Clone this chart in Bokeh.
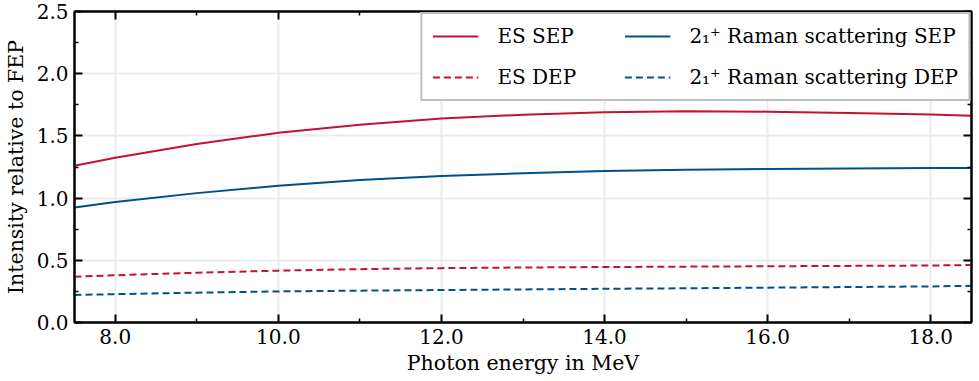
from bokeh.plotting import figure
from bokeh.models import FixedTicker, LinearAxis, Legend, LegendItem, CustomJSTickFormatter, Range1d
from bokeh.embed import file_html
from bokeh.resources import INLINE

energy = [7.5, 8, 9, 10, 11, 12, 13, 14, 15, 16, 17, 18, 18.5]
es_sep = [1.26, 1.325, 1.435, 1.525, 1.59, 1.64, 1.67, 1.69, 1.698, 1.695, 1.685, 1.672, 1.662]
raman_sep = [0.925, 0.968, 1.04, 1.10, 1.145, 1.178, 1.20, 1.218, 1.228, 1.234, 1.238, 1.241, 1.242]
es_dep = [0.368, 0.38, 0.40, 0.417, 0.429, 0.437, 0.442, 0.446, 0.449, 0.452, 0.455, 0.458, 0.462]
raman_dep = [0.221, 0.228, 0.24, 0.25, 0.256, 0.261, 0.266, 0.271, 0.275, 0.28, 0.285, 0.29, 0.295]

x_ticks = [8, 10, 12, 14, 16, 18]
x_minor = [9, 11, 13, 15, 17]
y_ticks = [0, 0.5, 1.0, 1.5, 2.0, 2.5]
y_minor = [0.25, 0.75, 1.25, 1.75, 2.25]

RED = "#c4122f"
BLUE = "#00508c"
FONT = "DejaVu Serif"

p = figure(width=979, height=381, output_backend="svg", toolbar_location=None,
           x_range=Range1d(7.5, 18.5), y_range=Range1d(0, 2.5),
           x_axis_label="Photon energy in MeV", y_axis_label="Intensity relative to FEP")
p.min_border_left = 72
p.min_border_right = 8
p.min_border_top = 11
p.min_border_bottom = 59
p.outline_line_color = "black"
p.outline_line_width = 2
p.background_fill_color = "white"
p.border_fill_color = "white"

xt = FixedTicker(ticks=x_ticks, minor_ticks=x_minor)
yt = FixedTicker(ticks=y_ticks, minor_ticks=y_minor)
fmt = CustomJSTickFormatter(code="return tick.toFixed(1);")
blank = CustomJSTickFormatter(code="return '';")

def style_axis(ax, show_labels=True):
    ax.axis_line_width = 2
    ax.axis_line_color = "black"
    ax.major_tick_line_width = 2
    ax.minor_tick_line_width = 1.5
    ax.major_tick_in = 8
    ax.major_tick_out = 0
    ax.minor_tick_in = 4
    ax.minor_tick_out = 0
    ax.major_label_text_font = FONT
    ax.major_label_text_color = "black"
    ax.axis_label_text_font = FONT
    ax.axis_label_text_font_style = "normal"
    ax.axis_label_text_font_size = "20.5px"
    ax.axis_label_text_color = "black"
    ax.major_label_text_font_size = "20px"
    if show_labels:
        ax.formatter = fmt
    else:
        ax.formatter = blank
        ax.major_label_standoff = 0

p.xaxis.ticker = xt
p.yaxis.ticker = yt
style_axis(p.xaxis[0])
style_axis(p.yaxis[0])
p.xaxis.major_label_standoff = 6
p.yaxis.major_label_standoff = 6
p.xaxis.axis_label_standoff = 4
p.yaxis.axis_label_standoff = 6

top = LinearAxis(ticker=xt)
style_axis(top, False)
right = LinearAxis(ticker=yt)
style_axis(right, False)
p.add_layout(top, "above")
p.add_layout(right, "right")

p.xgrid.ticker = xt
p.ygrid.ticker = yt
p.grid.grid_line_color = "#ebebeb"
p.grid.grid_line_width = 2

r1 = p.line(energy, es_sep, line_color=RED, line_width=2)
r2 = p.line(energy, es_dep, line_color=RED, line_width=2, line_dash="7 4")
r3 = p.line(energy, raman_sep, line_color=BLUE, line_width=2)
r4 = p.line(energy, raman_dep, line_color=BLUE, line_width=2, line_dash="7 4")

legend = Legend(items=[
    LegendItem(label="ES SEP", renderers=[r1]),
    LegendItem(label="ES DEP", renderers=[r2]),
    LegendItem(label="2\u2081\u207a Raman scattering SEP", renderers=[r3]),
    LegendItem(label="2\u2081\u207a Raman scattering DEP", renderers=[r4]),
], location="top_right", ncols=2)
legend.label_text_font = FONT
legend.label_text_font_style = "normal"
legend.label_text_font_size = "20px"
legend.label_text_color = "black"
legend.glyph_width = 46
legend.glyph_height = 20
legend.label_standoff = 19
legend.label_height = 20
legend.label_width = 110
legend.spacing = 17
legend.padding = 10
legend.margin = 1
legend.border_line_color = "#808080"
legend.border_line_width = 2
legend.background_fill_color = "white"
legend.background_fill_alpha = 1
p.add_layout(legend, "center")

open("out.html", "w").write(file_html(p, INLINE))
